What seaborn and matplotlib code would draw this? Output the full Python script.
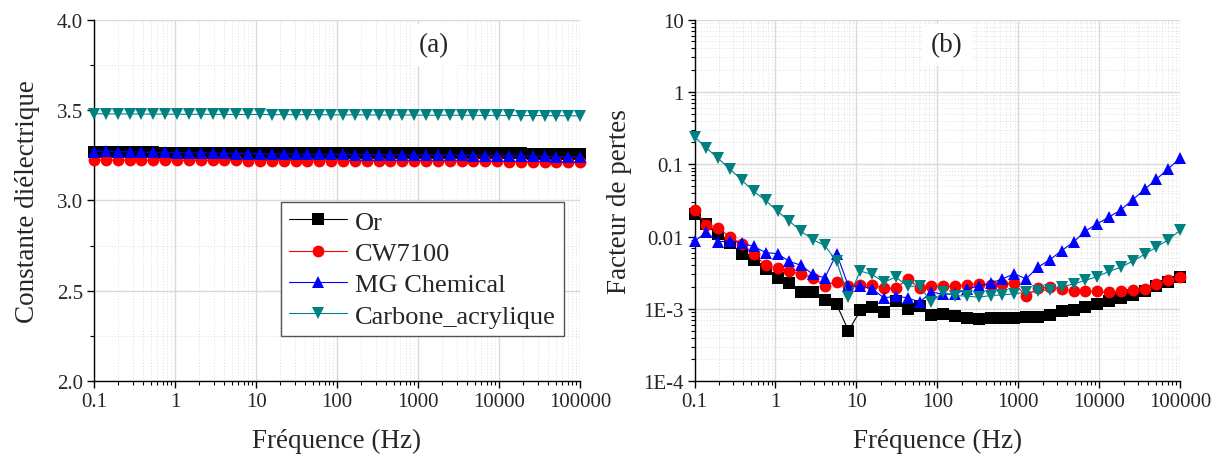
import numpy as np
import pandas as pd
import matplotlib
matplotlib.use('Agg')
import matplotlib.pyplot as plt
from matplotlib.ticker import FixedLocator, FixedFormatter, LogLocator, NullFormatter, MultipleLocator
from matplotlib.lines import Line2D
import seaborn as sns

# ---- data
materials = ['Or', 'CW7100', 'MG Chemical', 'Carbone_acrylique']
colors = ['#000000', '#ff0000', '#0000ff', '#008080']
markers = ['s', 'o', '^', 'v']

freq_hz = [0.1, 0.14, 0.196, 0.275, 0.385, 0.539, 0.755, 1.06, 1.48, 2.08,
           2.91, 4.07, 5.70, 7.99, 11.2, 15.7, 21.9, 30.7, 43.1, 60.3,
           84.5, 118, 166, 232, 325, 456, 638, 894, 1252, 1754,
           2456, 3441, 4820, 6751, 9454, 13243, 18547, 25976, 36384, 50958,
           71373, 100000]

# dielectric constant (a)
or_eps = [3.266, 3.265, 3.265, 3.265, 3.265, 3.265, 3.264, 3.264, 3.264, 3.264,
          3.264, 3.264, 3.264, 3.263, 3.263, 3.263, 3.263, 3.263, 3.263, 3.262,
          3.262, 3.262, 3.262, 3.262, 3.262, 3.261, 3.261, 3.261, 3.261, 3.261,
          3.261, 3.260, 3.260, 3.260, 3.260, 3.260, 3.260, 3.259, 3.259, 3.259,
          3.259, 3.259]
cw_eps = [3.224, 3.223, 3.223, 3.223, 3.222, 3.222, 3.222, 3.222, 3.221, 3.221,
          3.221, 3.221, 3.221, 3.220, 3.220, 3.220, 3.220, 3.220, 3.219, 3.219,
          3.219, 3.219, 3.218, 3.218, 3.218, 3.218, 3.217, 3.217, 3.217, 3.216,
          3.216, 3.216, 3.215, 3.215, 3.215, 3.214, 3.214, 3.213, 3.213, 3.212,
          3.212, 3.211]
mg_eps = [3.270, 3.272, 3.270, 3.268, 3.267, 3.266, 3.265, 3.264, 3.263, 3.262,
          3.261, 3.260, 3.259, 3.259, 3.258, 3.257, 3.257, 3.256, 3.255, 3.255,
          3.254, 3.254, 3.253, 3.253, 3.252, 3.252, 3.251, 3.251, 3.250, 3.250,
          3.249, 3.249, 3.248, 3.247, 3.247, 3.246, 3.245, 3.244, 3.243, 3.242,
          3.241, 3.240]
carbone_eps = [3.480, 3.478, 3.478, 3.478, 3.477, 3.477, 3.477, 3.476, 3.476, 3.476,
               3.476, 3.475, 3.475, 3.475, 3.475, 3.474, 3.474, 3.474, 3.474, 3.474,
               3.473, 3.473, 3.473, 3.473, 3.472, 3.472, 3.472, 3.472, 3.471, 3.471,
               3.471, 3.471, 3.470, 3.470, 3.470, 3.470, 3.469, 3.469, 3.469, 3.468,
               3.468, 3.467]

# loss factor (b)
or_loss = [0.0207, 0.0150, 0.0109, 0.0082, 0.0057, 0.00467, 0.00358, 0.00269, 0.00229, 0.00170,
           0.00170, 0.00133, 0.00115, 0.00050, 0.00095, 0.00105, 0.00090, 0.00130, 0.00100, 0.00109,
           0.00083, 0.00085, 0.00079, 0.00075, 0.00073, 0.00074, 0.00074, 0.00074, 0.00077, 0.00077,
           0.00083, 0.00092, 0.00098, 0.00105, 0.00115, 0.00128, 0.00140, 0.00156, 0.00176, 0.00204,
           0.00239, 0.00274]
cw_loss = [0.0235, 0.0146, 0.0132, 0.0098, 0.0079, 0.0057, 0.0040, 0.00366, 0.00329, 0.00305,
           0.00269, 0.00210, 0.00239, 0.00210, 0.00215, 0.00215, 0.00193, 0.00193, 0.00260, 0.00195,
           0.00210, 0.00204, 0.00204, 0.00215, 0.00222, 0.00215, 0.00222, 0.00227, 0.00150, 0.00193,
           0.00200, 0.00189, 0.00174, 0.00174, 0.00174, 0.00170, 0.00174, 0.00185, 0.00189, 0.00222,
           0.00247, 0.00280]
mg_loss = [0.0086, 0.0115, 0.0084, 0.0088, 0.0081, 0.0073, 0.0060, 0.0058, 0.00453, 0.0040,
           0.00299, 0.00269, 0.0058, 0.00206, 0.00206, 0.00189, 0.00142, 0.00150, 0.00142, 0.00124,
           0.00170, 0.0016, 0.0016, 0.0019, 0.00206, 0.00227, 0.00260, 0.00305, 0.0026, 0.00378,
           0.00476, 0.0064, 0.0084, 0.0119, 0.0150, 0.0186, 0.0234, 0.0322, 0.0449, 0.0617,
           0.0868, 0.120]
carbone_loss = [0.239, 0.168, 0.120, 0.085, 0.060, 0.042, 0.0316, 0.0223, 0.0164, 0.0118,
                0.0090, 0.00754, 0.00453, 0.00145, 0.00333, 0.00299, 0.00234, 0.00275, 0.00206, 0.00206,
                0.00124, 0.00170, 0.00153, 0.00150, 0.00145, 0.00153, 0.00156, 0.00161, 0.00170, 0.00174,
                0.00185, 0.00200, 0.00222, 0.00247, 0.00280, 0.00329, 0.00378, 0.00457, 0.00566, 0.00715,
                0.00903, 0.01216]

x_ticks = [0.1, 1, 10, 100, 1000, 10000, 100000]
x_ticklabels = ['0.1', '1', '10', '100', '1000', '10000', '100000']
y_loss_ticks = [1e-4, 1e-3, 0.01, 0.1, 1, 10]
y_loss_ticklabels = ['1E-4', '1E-3', '0.01', '0.1', '1', '10']


def long_frame(series):
	rows = []
	for name, vals in zip(materials, series):
		for f, v in zip(freq_hz, vals):
			rows.append({'freq': f, 'value': v, 'material': name})
	return pd.DataFrame(rows)


def style_axes(ax):
	ax.set_xscale('log')
	ax.set_xlim(0.1, 100000)
	ax.xaxis.set_major_locator(FixedLocator(x_ticks))
	ax.xaxis.set_major_formatter(FixedFormatter(x_ticklabels))
	ax.xaxis.set_minor_locator(LogLocator(base=10, subs=np.arange(2, 10)))
	ax.xaxis.set_minor_formatter(NullFormatter())
	for s in ['top', 'right']:
		ax.spines[s].set_visible(False)
	for s in ['left', 'bottom']:
		ax.spines[s].set_color('black')
		ax.spines[s].set_linewidth(1.0)
	ax.tick_params(which='major', direction='out', length=5, width=1, color='black',
	               labelsize=15, pad=3, left=True, bottom=True)
	ax.tick_params(which='minor', direction='out', length=3, width=0.8, color='black',
	               left=True, bottom=True)
	ax.grid(True, which='major', color='#d9d9d9', linewidth=1.0, linestyle='-')
	ax.grid(True, which='minor', color='#dedede', linewidth=0.7, linestyle=(0, (1, 2)))
	ax.set_axisbelow(True)
	ax.set_xlabel('Fréquence (Hz)', fontsize=19.5, labelpad=12)


sns.set_theme(style='white')
plt.rcParams['font.family'] = ['Liberation Serif', 'DejaVu Serif']
plt.rcParams['mathtext.default'] = 'regular'

fig = plt.figure(figsize=(12.23, 4.56), dpi=100)
ax1 = fig.add_axes([0.0769, 0.1618, 0.3974, 0.7932])
ax2 = fig.add_axes([0.5679, 0.1618, 0.3970, 0.7932])

df_eps = long_frame([or_eps, cw_eps, mg_eps, carbone_eps])
df_loss = long_frame([or_loss, cw_loss, mg_loss, carbone_loss])

for ax, df in [(ax1, df_eps), (ax2, df_loss)]:
	sns.lineplot(data=df, x='freq', y='value', hue='material', style='material',
	             hue_order=materials, style_order=materials, palette=colors,
	             markers=markers, dashes=False, markersize=8.5, linewidth=0.8,
	             markeredgewidth=0, errorbar=None, legend=False, ax=ax, zorder=3)
	for ln in ax.lines:
		ln.set_clip_on(False)

# panel (a)
style_axes(ax1)
ax1.set_ylim(2.0, 4.0)
ax1.yaxis.set_major_locator(MultipleLocator(0.5))
ax1.yaxis.set_minor_locator(MultipleLocator(0.25))
ax1.yaxis.set_major_formatter(matplotlib.ticker.FormatStrFormatter('%.1f'))
ax1.set_ylabel('Constante diélectrique', fontsize=19.5, labelpad=12)
ax1.text(0.70, 0.93, '(a)', transform=ax1.transAxes, ha='center', va='center', fontsize=19.5,
         bbox=dict(facecolor='white', edgecolor='none', pad=6), zorder=2)

handles = [Line2D([0], [0], color=c, marker=m, markersize=8.5, markeredgewidth=0, linewidth=0.8)
           for c, m in zip(colors, markers)]
leg = ax1.legend(handles, materials, loc='upper left', bbox_to_anchor=(0.385, 0.495),
                 fontsize=19, frameon=True, fancybox=False, framealpha=1,
                 edgecolor='#555555', handlelength=2.2, handletextpad=0.3,
                 borderpad=0.3, labelspacing=0.3, borderaxespad=0)
leg.get_frame().set_linewidth(1.0)

# panel (b)
style_axes(ax2)
ax2.set_yscale('log')
ax2.set_ylim(1e-4, 10)
ax2.yaxis.set_major_locator(FixedLocator(y_loss_ticks))
ax2.yaxis.set_major_formatter(FixedFormatter(y_loss_ticklabels))
ax2.yaxis.set_minor_locator(LogLocator(base=10, subs=np.arange(2, 10)))
ax2.yaxis.set_minor_formatter(NullFormatter())
ax2.set_ylabel('Facteur de pertes', fontsize=19.5, labelpad=8)
ax2.text(0.52, 0.93, '(b)', transform=ax2.transAxes, ha='center', va='center', fontsize=19.5,
         bbox=dict(facecolor='white', edgecolor='none', pad=6), zorder=2)

fig.savefig('out.png', dpi=100, facecolor='white')
